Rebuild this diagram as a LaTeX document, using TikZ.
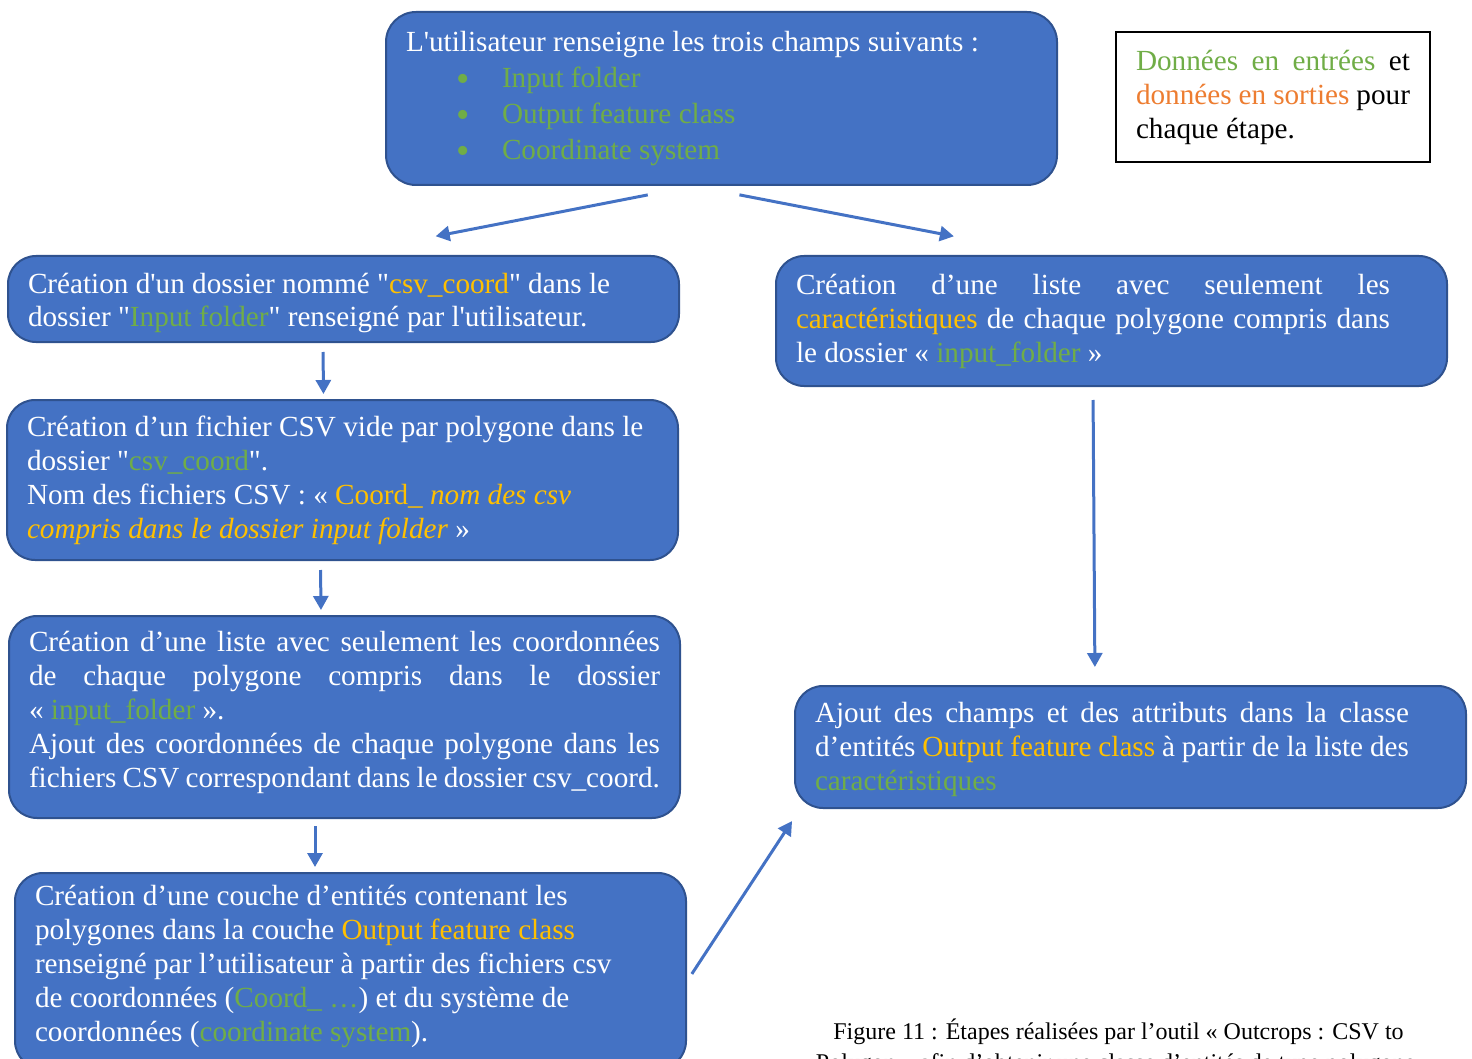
\documentclass[tikz,border=0pt]{standalone}
\usepackage{fontspec}
\setmainfont{Liberation Serif}[Ligatures=TeXOff]
\usetikzlibrary{arrows.meta,positioning}

\definecolor{boxblue}{HTML}{4472C4}
\definecolor{boxedge}{HTML}{2F528F}
\definecolor{ingreen}{HTML}{70AD47}
\definecolor{outorange}{HTML}{ED7D31}
\definecolor{outgold}{HTML}{FFC000}

% full-width justified line
\newcommand{\jline}[2][315.5pt]{\makebox[#1][s]{#2}}
\newcommand{\inp}[1]{\textcolor{ingreen}{#1}}
\newcommand{\outp}[1]{\textcolor{outgold}{#1}}
\newcommand{\gbullet}{\hspace*{25pt}\makebox[23pt][l]{\raisebox{-1.8pt}[0pt][0pt]{\inp{\fontsize{19}{17}\selectfont\textbullet}}}}

\begin{document}
\begin{tikzpicture}[
  x=0.5pt, y=-0.5pt,
  stepbox/.style={draw=boxedge, line width=1pt, fill=boxblue, rounded corners=14pt, text=white, align=flush left,
    inner xsep=10pt, inner ysep=5pt, text width=315.5pt, font=\fontsize{14.6}{17}\selectfont},
  legendbox/.style={draw=black, line width=0.6pt, align=flush left, inner xsep=10pt, text width=137pt,
    minimum height=65pt, font=\fontsize{14.6}{17}\selectfont},
  arrow/.style={-{Triangle[length=7pt,width=7.5pt]}, line width=1.5pt, draw=boxblue}
]
\useasboundingbox (0,0) rectangle (1472,1059);

% input fields
\node[stepbox, rounded corners=15pt, minimum height=86.5pt, font=\fontsize{14.6}{18}\selectfont] (fields) at (721.5,98.5)
  {L'utilisateur renseigne les trois champs suivants :\\
   \gbullet\inp{Input folder}\\
   \gbullet\inp{Output feature class}\\
   \gbullet\inp{Coordinate system}};

\node[legendbox] (legend) at (1273,97)
  {\jline[137pt]{\inp{Données en entrées} et}\\
   \jline[137pt]{\textcolor{outorange}{données en sorties} pour}\\
   chaque étape.};

% left column
\node[stepbox, anchor=north west, minimum height=43pt] (folder) at (7,255)
  {Création d'un dossier nommé "\outp{csv\_coord}" dans le\\
   dossier "\inp{Input folder}" renseigné par l'utilisateur.\par\vspace{-4pt}};
\node[stepbox, below=28pt of folder.south west, anchor=north west, xshift=-0.5pt, minimum height=80pt] (csvfiles)
  {Création d’un fichier CSV vide par polygone dans le\\
   dossier "\inp{csv\_coord}".\\
   Nom des fichiers CSV~: «~\outp{Coord\_ \textit{nom des csv}}\\
   \outp{\textit{compris dans le dossier input folder}}~»};
\node[stepbox, below=27pt of csvfiles.south west, anchor=north west, xshift=1pt, minimum height=101pt] (coords)
  {\jline{Création d’une liste avec seulement les coordonnées}\\
   \jline{de chaque polygone compris dans le dossier}\\
   «~\inp{input\_folder}~».\\
   \jline{Ajout des coordonnées de chaque polygone dans les}\\
   \jline{fichiers CSV correspondant dans le dossier csv\_coord.}\par\vspace{5pt}};
\node[stepbox, below=26.5pt of coords.south west, anchor=north west, xshift=3pt, minimum height=98pt] (layer)
  {Création d’une couche d’entités contenant les\\
   polygones dans la couche \outp{Output feature class}\\
   renseigné par l’utilisateur à partir des fichiers csv\\
   de coordonnées (\inp{Coord\_ …}) et du système de\\
   coordonnées (\inp{coordinate system}).\par\vspace{5pt}};

% right column
\node[stepbox, anchor=north west, minimum height=65pt] (attrs) at (775,255)
  {\jline[297pt]{Création d’une liste avec seulement les}\\
   \jline[297pt]{\outp{caractéristiques} de chaque polygone compris dans}\\
   le dossier «~\inp{input\_folder}~»};
\node[stepbox, below=149pt of attrs.south west, anchor=north west, xshift=9.5pt, minimum height=61pt] (fields2)
  {\jline[297pt]{Ajout des champs et des attributs dans la classe}\\
   \jline[297pt]{d’entités \outp{Output feature class} à partir de la liste des}\\
   \inp{caractéristiques}\par\vspace{-2pt}};

\node[font=\fontsize{12}{15.5}\selectfont, align=flush center, anchor=north, inner sep=0pt] (caption) at (1118.5,1018)
  {Figure 11 : Étapes réalisées par l’outil « Outcrops : CSV to\\
   Polygon » afin d’obtenir une classe d’entités de type polygone.};

\draw[arrow, shorten <=23.3pt, shorten >=49pt] ([xshift=-14pt]fields.south) -- ([xshift=-2pt]folder.north);
\draw[arrow, shorten <=23.4pt, shorten >=49.3pt] ([xshift=-14pt]fields.south) -- ([xshift=-30.4pt]attrs.north);
\draw[arrow, shorten <=4.5pt, shorten >=2.5pt] ([xshift=-10.25pt]folder.south) -- ([xshift=-9.5pt]csvfiles.north);
\draw[arrow, shorten <=4.5pt, shorten >=2.5pt] ([xshift=-11pt]csvfiles.south) -- ([xshift=-11.75pt]coords.north);
\draw[arrow, shorten <=3.5pt, shorten >=2.5pt] ([xshift=-14.75pt]coords.south) -- ([xshift=-17.75pt]layer.north);
\draw[arrow, shorten <=6.5pt, shorten >=9pt] ([xshift=-9.25pt]attrs.south) -- ([xshift=-17.75pt]fields2.north);
\draw[arrow, shorten <=4.4pt, shorten >=1.8pt] ([yshift=-5.15pt]layer.east) -- ([yshift=-35.5pt]fields2.west);
\end{tikzpicture}
\end{document}
